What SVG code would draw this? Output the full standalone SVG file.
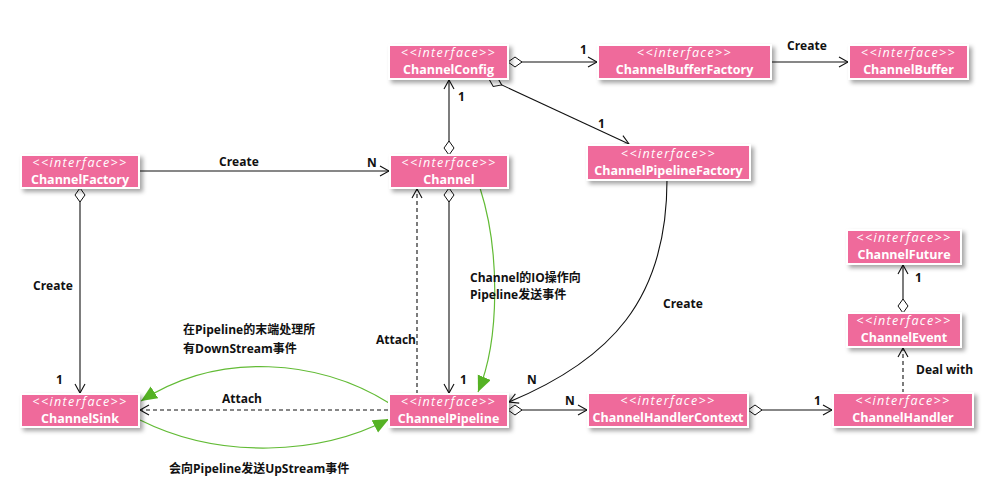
<svg xmlns="http://www.w3.org/2000/svg" width="1004" height="492" viewBox="0 0 1004 492">
<style>
.box{fill:#ef6b9b;stroke:#ffffff;stroke-width:2}
.st{font-family:"Open Sans","Liberation Sans",sans-serif;font-style:italic;font-size:12.5px;fill:#fff;text-anchor:middle;letter-spacing:1.4px}
.nm{font-family:"Open Sans","Liberation Sans",sans-serif;font-weight:bold;font-size:12.5px;fill:#fff;text-anchor:middle}
.lb{font-family:"Open Sans","Liberation Sans","Noto Sans CJK SC",sans-serif;font-weight:bold;font-size:12px;fill:#111}
.ln{fill:none;stroke:#111;stroke-width:1.1}
.dash{stroke-dasharray:4,3}
.gr{fill:none;stroke:#62bb35;stroke-width:1.2}
</style>
<defs>
<filter id="sh" x="-10%" y="-20%" width="130%" height="160%">
<feDropShadow dx="3" dy="3" stdDeviation="2" flood-color="#000" flood-opacity="0.35"/>
</filter>
<marker id="ar" markerUnits="userSpaceOnUse" markerWidth="14" markerHeight="14" refX="10" refY="6" orient="auto">
<path d="M1,1 L10,6 L1,11" fill="none" stroke="#111" stroke-width="1.1"/>
</marker>
<marker id="dm" markerUnits="userSpaceOnUse" markerWidth="16" markerHeight="12" refX="0.5" refY="6" orient="auto">
<path d="M0.5,6 L7.5,1 L14.5,6 L7.5,11 Z" fill="#fff" stroke="#111" stroke-width="1"/>
</marker>
<marker id="ga" markerUnits="userSpaceOnUse" markerWidth="18" markerHeight="16" refX="16" refY="7" orient="auto">
<path d="M0,0 L16,7 L0,14 Z" fill="#55b224"/>
</marker>
</defs>
<rect width="1004" height="492" fill="#fff"/>

<g id="connectors">
<path class="ln" d="M508,62 L597,62" marker-start="url(#dm)" marker-end="url(#ar)"/>
<path class="ln" d="M771,62 L848,62" marker-end="url(#ar)"/>
<path class="ln" d="M489,79 L629,144" marker-start="url(#dm)" marker-end="url(#ar)"/>
<path class="ln" d="M449,155 L449,80" marker-start="url(#dm)" marker-end="url(#ar)"/>
<path class="ln" d="M139,171 L389,171" marker-end="url(#ar)"/>
<path class="ln" d="M80,188 L80,393" marker-start="url(#dm)" marker-end="url(#ar)"/>
<path class="ln" d="M449,188 L449,393" marker-start="url(#dm)" marker-end="url(#ar)" stroke="#444"/>
<path class="ln dash" d="M417,394 L417,189" marker-end="url(#ar)"/>
<path class="ln dash" d="M388,410 L140,410" marker-end="url(#ar)"/>
<path class="ln" d="M508,410 L587,410" marker-start="url(#dm)" marker-end="url(#ar)"/>
<path class="ln" d="M748,410 L832,410" marker-start="url(#dm)" marker-end="url(#ar)"/>
<path class="ln dash" d="M903,393 L903,348" marker-end="url(#ar)"/>
<path class="ln" d="M903,313 L903,265" marker-start="url(#dm)" marker-end="url(#ar)"/>
<path class="ln" d="M667,180 C667,300 610,360 509,402" marker-end="url(#ar)"/>
<path class="gr" d="M480,188 C500,250 500,340 478,392" marker-end="url(#ga)"/>
<path class="gr" d="M389,403 C320,360 220,350 141,401" marker-end="url(#ga)"/>
<path class="gr" d="M140,420 C220,460 320,455 389,419" marker-end="url(#ga)"/>
</g>

<g id="labels">
<text class="lb" x="580" y="54">1</text>
<text class="lb" x="787" y="50">Create</text>
<text class="lb" x="219" y="166">Create</text>
<text class="lb" x="367" y="167">N</text>
<text class="lb" x="458" y="101">1</text>
<text class="lb" x="598" y="128">1</text>
<text class="lb" x="33" y="290">Create</text>
<text class="lb" x="56" y="384">1</text>
<text class="lb" x="183" y="334">在Pipeline的末端处理所</text>
<text class="lb" x="183" y="353">有DownStream事件</text>
<text class="lb" x="376" y="344">Attach</text>
<text class="lb" x="460" y="384">1</text>
<text class="lb" x="222" y="403">Attach</text>
<text class="lb" x="470" y="282">Channel的IO操作向</text>
<text class="lb" x="470" y="299">Pipeline发送事件</text>
<text class="lb" x="663" y="308">Create</text>
<text class="lb" x="527" y="384">N</text>
<text class="lb" x="565" y="405">N</text>
<text class="lb" x="814" y="405">1</text>
<text class="lb" x="916" y="374">Deal with</text>
<text class="lb" x="915" y="282">1</text>
<text class="lb" x="169" y="473">会向Pipeline发送UpStream事件</text>
</g>

<g id="ChannelConfig"><rect class="box" x="389" y="45" width="119" height="34" filter="url(#sh)"/><text class="st" x="448.5" y="57">&lt;&lt;interface&gt;&gt;</text><text class="nm" x="448.5" y="74">ChannelConfig</text></g>
<g id="ChannelBufferFactory"><rect class="box" x="598" y="45" width="173" height="34" filter="url(#sh)"/><text class="st" x="684.5" y="57">&lt;&lt;interface&gt;&gt;</text><text class="nm" x="684.5" y="74">ChannelBufferFactory</text></g>
<g id="ChannelBuffer"><rect class="box" x="849" y="45" width="119" height="34" filter="url(#sh)"/><text class="st" x="908.5" y="57">&lt;&lt;interface&gt;&gt;</text><text class="nm" x="908.5" y="74">ChannelBuffer</text></g>
<g id="ChannelFactory"><rect class="box" x="21" y="155" width="118" height="33" filter="url(#sh)"/><text class="st" x="80" y="167">&lt;&lt;interface&gt;&gt;</text><text class="nm" x="80" y="184">ChannelFactory</text></g>
<g id="Channel"><rect class="box" x="390" y="155" width="118" height="33" filter="url(#sh)"/><text class="st" x="449" y="167">&lt;&lt;interface&gt;&gt;</text><text class="nm" x="449" y="184">Channel</text></g>
<g id="ChannelPipelineFactory"><rect class="box" x="587" y="145" width="163" height="35" filter="url(#sh)"/><text class="st" x="668.5" y="158">&lt;&lt;interface&gt;&gt;</text><text class="nm" x="668.5" y="175">ChannelPipelineFactory</text></g>
<g id="ChannelFuture"><rect class="box" x="847" y="230" width="114" height="34" filter="url(#sh)"/><text class="st" x="904" y="242">&lt;&lt;interface&gt;&gt;</text><text class="nm" x="904" y="259">ChannelFuture</text></g>
<g id="ChannelEvent"><rect class="box" x="847" y="313" width="114" height="34" filter="url(#sh)"/><text class="st" x="904" y="325">&lt;&lt;interface&gt;&gt;</text><text class="nm" x="904" y="342">ChannelEvent</text></g>
<g id="ChannelSink"><rect class="box" x="21" y="394" width="118" height="33" filter="url(#sh)"/><text class="st" x="80" y="406">&lt;&lt;interface&gt;&gt;</text><text class="nm" x="80" y="423">ChannelSink</text></g>
<g id="ChannelPipeline"><rect class="box" x="389" y="394" width="119" height="33" filter="url(#sh)"/><text class="st" x="448.5" y="406">&lt;&lt;interface&gt;&gt;</text><text class="nm" x="448.5" y="423">ChannelPipeline</text></g>
<g id="ChannelHandlerContext"><rect class="box" x="588" y="393" width="160" height="34" filter="url(#sh)"/><text class="st" x="668" y="405">&lt;&lt;interface&gt;&gt;</text><text class="nm" x="668" y="422">ChannelHandlerContext</text></g>
<g id="ChannelHandler"><rect class="box" x="833" y="393" width="140" height="34" filter="url(#sh)"/><text class="st" x="903" y="405">&lt;&lt;interface&gt;&gt;</text><text class="nm" x="903" y="422">ChannelHandler</text></g>
</svg>
